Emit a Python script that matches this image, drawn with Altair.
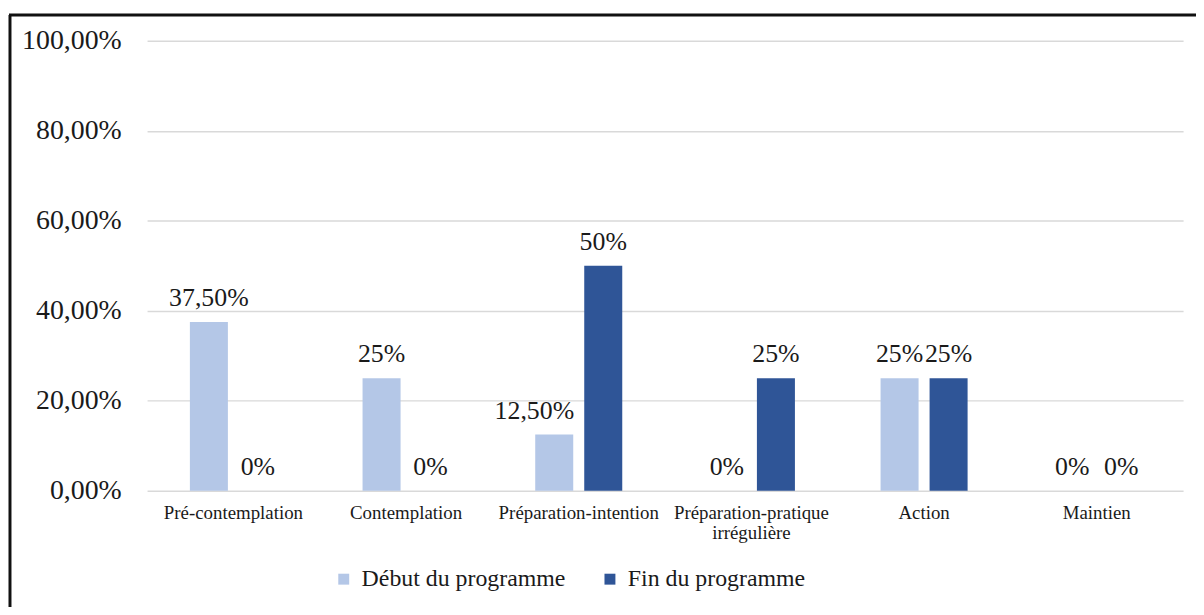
import altair as alt
import pandas as pd

categories = ["Pré-contemplation", "Contemplation", "Préparation-intention",
              "Préparation-pratique|irrégulière", "Action", "Maintien"]
series = ["Début du programme", "Fin du programme"]
debut = [0.375, 0.25, 0.125, 0.0, 0.25, 0.0]
fin = [0.0, 0.0, 0.5, 0.25, 0.25, 0.0]
debut_labels = ["37,50%", "25%", "12,50%", "0%", "25%", "0%"]
fin_labels = ["0%", "0%", "50%", "25%", "25%", "0%"]
y_ticks = [0, 0.2, 0.4, 0.6, 0.8, 1.0]
colors = ["#b4c7e7", "#2f5597"]

rows = []
for i, c in enumerate(categories):
    rows.append(dict(cat=c, serie=series[0], val=debut[i], lbl=debut_labels[i], idx=2 * i))
    rows.append(dict(cat=c, serie=series[1], val=fin[i], lbl=fin_labels[i], idx=2 * i + 1))
df = pd.DataFrame(rows)

font = "Liberation Serif"
txt = "#1a1a1a"

x = alt.X("cat:N", sort=categories, title=None,
          scale=alt.Scale(paddingInner=0.496, paddingOuter=0.248),
          axis=alt.Axis(labelExpr="split(datum.label, '|')", labelAngle=0,
                        labelFont=font, labelFontSize=19, labelColor=txt,
                        labelPadding=13, ticks=False, domain=False,
                        labelLineHeight=20, labelBaseline="top"))
xo = alt.XOffset("serie:N", sort=series,
                 scale=alt.Scale(paddingInner=0.2245, paddingOuter=0))
y = alt.Y("val:Q", title=None, scale=alt.Scale(domain=[0, 1]),
          axis=alt.Axis(values=y_ticks,
                        labelExpr="replace(format(datum.value, '.2%'), '.', ',')",
                        labelFont=font, labelFontSize=28, labelColor=txt,
                        labelPadding=26, ticks=False, domain=False,
                        gridColor="#d9d9d9", gridWidth=1.5))

color = alt.Color("serie:N", sort=series,
                  scale=alt.Scale(domain=series, range=colors),
                  legend=alt.Legend(orient="none", legendX=186, legendY=530,
                                    direction="horizontal", title=None,
                                    symbolType="square", symbolSize=121,
                                    symbolStrokeWidth=0, labelFont=font,
                                    labelFontSize=24, labelColor=txt,
                                    labelLimit=0, columnPadding=32,
                                    labelOffset=6, padding=0))

base = alt.Chart(df)
bars = base.mark_bar().encode(x=x, xOffset=xo, y=y, color=color)
labels = base.transform_filter("datum.idx != 4").mark_text(
    baseline="alphabetic", dy=-16, font=font, fontSize=26, color=txt
).encode(x=x, xOffset=xo, y="val:Q", text="lbl:N")
shifted = base.transform_filter("datum.idx == 4").mark_text(
    baseline="alphabetic", dy=-16, dx=-20, font=font, fontSize=26, color=txt
).encode(x=x, xOffset=xo, y="val:Q", text="lbl:N")

frame_df = pd.DataFrame({"a": [0]})
left_rule = alt.Chart(frame_df).mark_rule(color="#111111", strokeWidth=3).encode(
    x=alt.value(-138), y=alt.value(-26), y2=alt.value(600))
top_rule = alt.Chart(frame_df).mark_rule(color="#111111", strokeWidth=3).encode(
    x=alt.value(-139), x2=alt.value(1070), y=alt.value(-26))

chart = alt.layer(bars, labels, shifted, left_rule, top_rule).properties(
    width=1043, height=453,
    autosize=alt.AutoSizeParams(type="none"),
    padding={"left": 140, "top": 31, "right": 13, "bottom": 115},
    background="white",
).configure_view(strokeWidth=0)

chart.save("out.html", embed_options={"renderer": "svg", "actions": False})
